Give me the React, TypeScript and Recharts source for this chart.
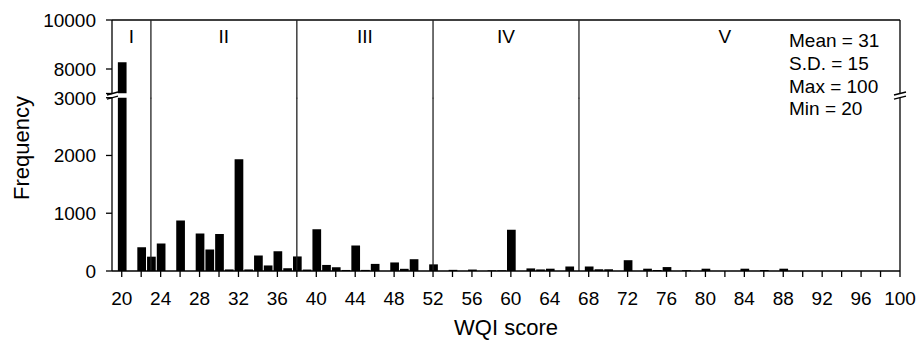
import React from 'react';
import { BarChart, Bar, XAxis, YAxis, ReferenceLine, ReferenceArea, Label } from 'recharts';

// WQI score bins (only bins with a visible bar) and their counts
const wqiScores = [
  20, 22, 23, 24, 26, 28, 29, 30, 31, 32, 33, 34, 35, 36, 37, 38, 39, 40, 41, 42, 43, 44, 45, 46,
  48, 49, 50, 52, 54, 56, 58, 59, 60, 62, 63, 64, 66, 68, 69, 70, 72, 74, 75, 76, 78, 80, 84, 86, 88,
];
const frequencies = [
  8280, 412, 248, 477, 873, 651, 372, 640, 27, 1933, 27, 270, 96, 340, 48, 252, 25, 722, 105, 65, 18, 442, 19, 123,
  148, 38, 204, 115, 20, 25, 12, 12, 715, 45, 27, 40, 78, 78, 30, 30, 187, 40, 17, 68, 14, 40, 40, 17, 40,
];

const xTicks = [
  20, 22, 24, 26, 28, 30, 32, 34, 36, 38, 40, 42, 44, 46, 48, 50, 52, 54, 56, 58, 60,
  62, 64, 66, 68, 70, 72, 74, 76, 78, 80, 82, 84, 86, 88, 90, 92, 94, 96, 98, 100,
];
const xLabels = [20, 24, 28, 32, 36, 40, 44, 48, 52, 56, 60, 64, 68, 72, 76, 80, 84, 88, 92, 96, 100];
const upperTicks = [7000, 8000, 10000];
const lowerTicks = [0, 1000, 2000, 3000];

// water quality classes
const classBounds = [23, 38, 52, 67];
const classNames = ['I', 'II', 'III', 'IV', 'V'];
const classCentres = [21, 30.5, 45, 59.5, 82];

const stats = ['Mean = 31', 'S.D. = 15', 'Max = 100', 'Min = 20'];

const BREAK_LOW = 7000;

const data = wqiScores.map((score, i) => ({ score, freq: frequencies[i] }));
// upper panel only shows bars that reach past the axis break
const upperData = data.map((d) => ({ score: d.score, freq: d.freq > BREAK_LOW ? d.freq : null }));

const FONT = 'Arial, "Liberation Sans", sans-serif';
const xDomain = [19, 100];
const axisStyle = { stroke: '#000', strokeWidth: 1.3 };

// left axis tick: label + optional break mark across the axis line
function LeftTick(props: any) {
  const { x, y, payload, breakValue, hideValue } = props;
  const ax = x + 16; // tickSize 6 + tickMargin 10
  return (
    <g>
      {payload.value === breakValue && (
        <line x1={ax - 5} y1={y + 1.5} x2={ax + 6} y2={y - 1.5} stroke="#000" strokeWidth={1.3} />
      )}
      {payload.value !== hideValue && (
        <text x={x} y={y} dy="0.36em" textAnchor="end" fontSize={19} fill="#000">
          {payload.value}
        </text>
      )}
    </g>
  );
}

function RightBreak(props: any) {
  const { x, y } = props;
  return <line x1={x - 6} y1={y + 1.5} x2={x + 6} y2={y - 1.5} stroke="#000" strokeWidth={1.3} />;
}

export default function App() {
  return (
    <div style={{ position: 'absolute', left: 0, top: 0, width: 917, height: 345, background: '#fff', fontFamily: FONT }}>
      {/* upper part of the broken axis: 7000 - 10000 */}
      <div style={{ position: 'absolute', left: 0, top: 0 }}>
        <BarChart width={917} height={120} data={upperData} margin={{ top: 20, right: 0, bottom: 26.5, left: 0 }}>
          <XAxis type="number" dataKey="score" domain={xDomain} hide allowDataOverflow />
          <YAxis
            yAxisId="l"
            type="number"
            domain={[BREAK_LOW, 10000]}
            ticks={upperTicks}
            allowDataOverflow
            width={112}
            interval={0}
            tickSize={6}
            tickMargin={10}
            axisLine={axisStyle}
            tickLine={axisStyle}
            tick={(p: any) => <LeftTick {...p} breakValue={BREAK_LOW} hideValue={BREAK_LOW} />}
          />
          <YAxis
            yAxisId="r"
            orientation="right"
            type="number"
            domain={[BREAK_LOW, 10000]}
            ticks={[BREAK_LOW]}
            allowDataOverflow
            width={17}
            interval={0}
            tickSize={0}
            tickMargin={0}
            axisLine={axisStyle}
            tickLine={false}
            tick={(p: any) => <RightBreak {...p} />}
          />
          <ReferenceLine yAxisId="l" y={10000} stroke="#000" strokeWidth={1.3} />
          {classBounds.map((b) => (
            <ReferenceLine
              key={b}
              yAxisId="l"
              segment={[{ x: b, y: 10000 }, { x: b, y: 6800 }]}
              ifOverflow="visible"
              stroke="#222"
              strokeWidth={1.3}
            />
          ))}
          {classNames.map((n, i) => (
            <ReferenceArea
              key={n}
              yAxisId="l"
              x1={classCentres[i] - 0.5}
              x2={classCentres[i] + 0.5}
              y1={BREAK_LOW}
              y2={10000}
              fill="none"
              stroke="none"
              label={{ value: n, position: 'insideTop', offset: 10, fontSize: 19, fill: '#000' }}
            />
          ))}
          <Bar yAxisId="l" dataKey="freq" fill="#000" barSize={8.7} isAnimationActive={false} />
        </BarChart>
      </div>

      {/* lower part: 0 - 3000 */}
      <div style={{ position: 'absolute', left: 0, top: 0 }}>
        <BarChart width={917} height={345} data={data} margin={{ top: 97.7, right: 0, bottom: 0, left: 0 }}>
          <XAxis
            type="number"
            dataKey="score"
            domain={xDomain}
            ticks={xTicks}
            interval={0}
            allowDataOverflow
            height={74}
            tickSize={6}
            tickMargin={15}
            axisLine={axisStyle}
            tickLine={axisStyle}
            tick={{ fontSize: 19, fill: '#000' }}
            tickFormatter={(v: number) => (xLabels.includes(v) ? String(v) : '')}
          >
            <Label value="WQI score" position="insideBottom" offset={10} fontSize={22} fill="#000" />
          </XAxis>
          <YAxis
            yAxisId="l"
            type="number"
            domain={[0, 3000]}
            ticks={lowerTicks}
            allowDataOverflow
            width={112}
            interval={0}
            tickSize={6}
            tickMargin={10}
            axisLine={axisStyle}
            tickLine={axisStyle}
            tick={(p: any) => <LeftTick {...p} breakValue={3000} />}
          />
          <YAxis
            yAxisId="r"
            orientation="right"
            type="number"
            domain={[0, 3000]}
            ticks={[3000]}
            allowDataOverflow
            width={17}
            interval={0}
            tickSize={0}
            tickMargin={0}
            axisLine={axisStyle}
            tickLine={false}
            tick={(p: any) => <RightBreak {...p} />}
          />
          {classBounds.map((b) => (
            <ReferenceLine key={b} yAxisId="l" x={b} stroke="#222" strokeWidth={1.3} />
          ))}
          <Bar yAxisId="l" dataKey="freq" fill="#000" barSize={8.7} isAnimationActive={false} />
        </BarChart>
      </div>

      <div
        style={{
          position: 'absolute',
          left: 22,
          top: 148,
          transform: 'translate(-50%, -50%) rotate(-90deg)',
          fontSize: 22,
          whiteSpace: 'nowrap',
          color: '#000',
        }}
      >
        Frequency
      </div>

      <div style={{ position: 'absolute', left: 789, top: 30, fontSize: 19, lineHeight: '22.8px', color: '#000' }}>
        {stats.map((s) => (
          <div key={s}>{s}</div>
        ))}
      </div>
    </div>
  );
}
